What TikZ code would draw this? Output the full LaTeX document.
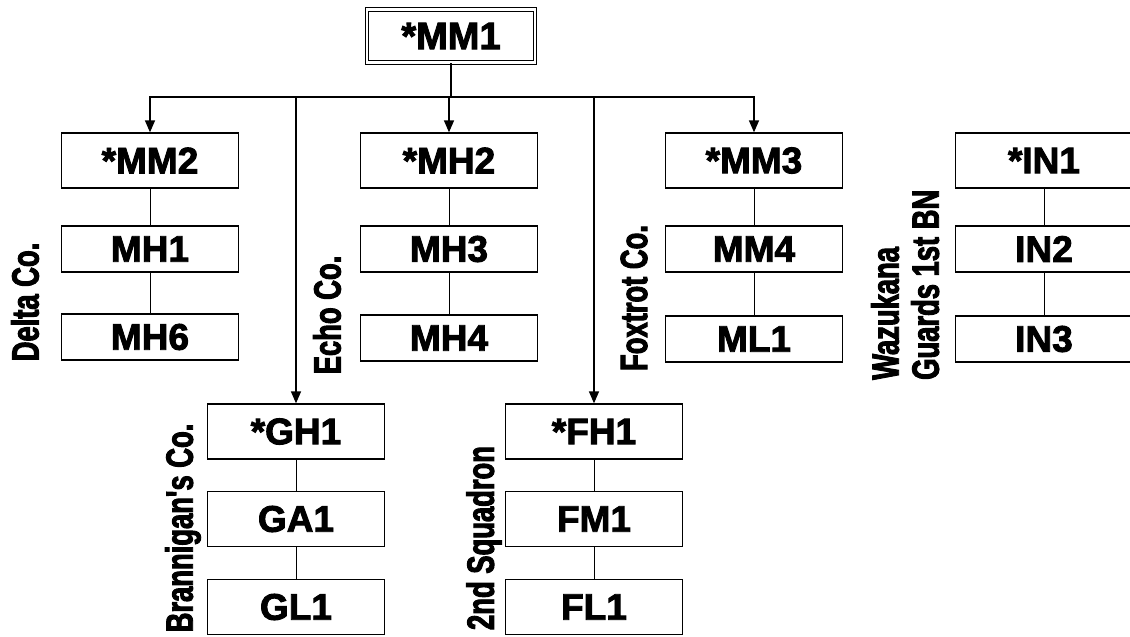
\documentclass[tikz,border=0pt]{standalone}
\usepackage{fontspec}
\setmainfont{Liberation Sans}
\newfontfamily\boxfont[FakeBold=2.5]{Liberation Sans}
\newfontfamily\labfont[FakeStretch=0.72,FakeBold=2.5]{Liberation Sans}
\usetikzlibrary{arrows.meta}
\tikzset{
  box/.style={draw, line width=1.3pt, minimum width=177pt, inner sep=0pt,
    font=\boxfont\fontsize{37}{40}\selectfont\bfseries},
  tallbox/.style={box, minimum height=55pt},
  shortbox/.style={box, minimum height=46pt},
  topbox/.style={draw, line width=1.1pt, double, double distance=2.6pt,
    minimum width=168pt, minimum height=53pt, inner sep=0pt,
    font=\boxfont\fontsize{38}{40}\selectfont\bfseries},
  link/.style={line width=1pt},
  bus/.style={line width=1.4pt},
  arr/.style={bus, -{Triangle[length=12pt,width=10pt]}},
  lab/.style={rotate=90, inner sep=0pt, align=left,
    font=\labfont\fontsize{38}{40}\selectfont\bfseries}
}
\begin{document}
\begin{tikzpicture}[x=1pt,y=-1pt]
\useasboundingbox (0,0) rectangle (1130,637);
% top
\node[topbox] (MM1) at (451,36) {*MM1};
\coordinate (bus) at (449,97);
% first level
\node[tallbox] (MM2) at (150,160.5) {*MM2};
\node[shortbox] (MH1) at (150,249) {MH1};
\node[shortbox] (MH6) at (150,337) {MH6};
\node[tallbox] (MH2) at (449,160.5) {*MH2};
\node[shortbox] (MH3) at (449,249) {MH3};
\node[shortbox] (MH4) at (449,338) {MH4};
\node[tallbox] (MM3) at (754,160.5) {*MM3};
\node[shortbox] (MM4) at (754,249) {MM4};
\node[shortbox] (ML1) at (754,339) {ML1};
\node[tallbox] (IN1) at (1044,160.5) {*IN1};
\node[shortbox] (IN2) at (1044,249) {IN2};
\node[shortbox] (IN3) at (1044,339) {IN3};
% lower groups
\node[tallbox] (GH1) at (296,431.5) {*GH1};
\node[tallbox] (GA1) at (296,519) {GA1};
\node[tallbox] (GL1) at (296,607) {GL1};
\node[tallbox] (FH1) at (594,431.5) {*FH1};
\node[tallbox] (FM1) at (594,519) {FM1};
\node[tallbox] (FL1) at (594,607) {FL1};
% connectors
\draw[bus] (MM1.south) -- (MM1.south |- bus);
\draw[arr] (bus) -- (MH2.north);
\draw[arr] (bus) -| (MM2.north);
\draw[arr] (bus) -| (GH1.north);
\draw[arr] (bus) -| (FH1.north);
\draw[arr] (bus) -| (MM3.north);
\foreach \a/\b in {MM2/MH1, MH1/MH6, MH2/MH3, MH3/MH4, MM3/MM4, MM4/ML1,
  IN1/IN2, IN2/IN3, GH1/GA1, GA1/GL1, FH1/FM1, FM1/FL1}
  \draw[link] (\a.south) -- (\b.north);
% labels
\node[lab] (delta) at (25,302) {Delta Co.};
\node[lab] (echo) at (327,315) {Echo Co.};
\node[lab] (foxtrot) at (634,298) {Foxtrot Co.};
\node[lab, anchor=north west] (waz) at (871,380) {Wazukana\\Guards 1st BN};
\node[lab] (bran) at (183,528) {Brannigan's Co.};
\node[lab] (sq) at (484,538) {2nd Squadron};
\end{tikzpicture}
\end{document}
